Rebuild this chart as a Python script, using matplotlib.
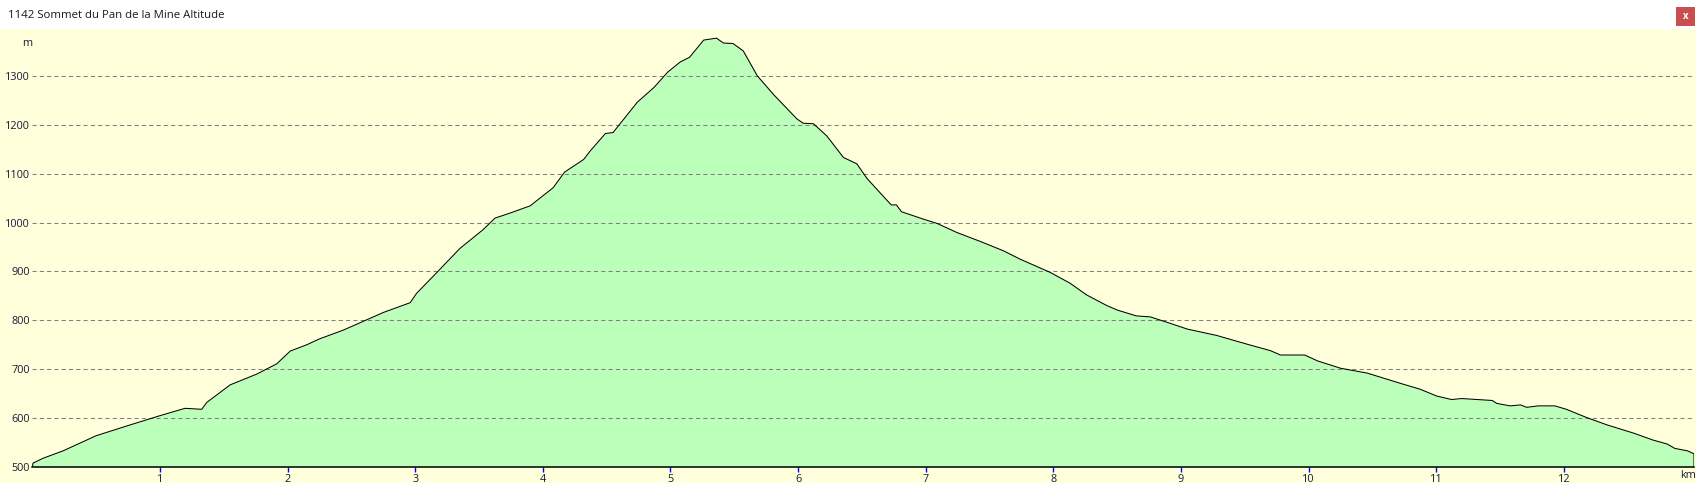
import matplotlib
matplotlib.use('Agg')
import matplotlib.pyplot as plt
from matplotlib.patches import Rectangle

# profile (distance in km, altitude in m)
km = [0.0, 0.005, 0.085, 0.24, 0.50, 0.765, 1.0, 1.196, 1.327, 1.366, 1.55, 1.758,
      1.915, 2.02, 2.15, 2.25, 2.437, 2.75, 2.96, 3.01, 3.17, 3.35, 3.53, 3.625,
      3.74, 3.90, 4.08, 4.17, 4.32, 4.37, 4.49, 4.55, 4.74, 4.87, 4.98, 5.075,
      5.15, 5.26, 5.36, 5.415, 5.49, 5.57, 5.68, 5.81, 5.99, 6.04, 6.12, 6.225,
      6.355, 6.46, 6.54, 6.68, 6.73, 6.77, 6.81, 6.98, 7.09, 7.24, 7.43, 7.61,
      7.74, 7.975, 8.13, 8.26, 8.42, 8.50, 8.65, 8.76, 8.83, 8.89, 9.05, 9.28,
      9.52, 9.70, 9.78, 9.97, 10.07, 10.25, 10.46, 10.72, 10.875, 11.005, 11.12,
      11.20, 11.44, 11.475, 11.58, 11.66, 11.71, 11.80, 11.93, 12.02, 12.18,
      12.34, 12.55, 12.70, 12.81, 12.87, 12.97, 13.02, 13.02]
alt = [500, 508, 518, 533, 564, 586, 605, 620, 618, 632, 668, 690,
       711, 737, 750, 762, 780, 816, 836, 855, 898, 947, 985, 1009,
       1019, 1034, 1071, 1103, 1129, 1146, 1182, 1184, 1246, 1276, 1308, 1328,
       1338, 1373, 1377, 1367, 1366, 1351, 1300, 1261, 1212, 1203, 1202, 1177,
       1133, 1120, 1090, 1050, 1036, 1036, 1022, 1007, 998, 980, 961, 942,
       925, 898, 876, 852, 830, 821, 809, 807, 801, 796, 782, 769,
       751, 738, 729, 729, 717, 702, 692, 671, 659, 645, 638,
       640, 636, 630, 625, 627, 622, 625, 625, 618, 601,
       586, 569, 555, 547, 538, 533, 527, 500]

y_ticks = [500, 600, 700, 800, 900, 1000, 1100, 1200, 1300]
x_ticks = [1, 2, 3, 4, 5, 6, 7, 8, 9, 10, 11, 12]
title = '1142 Sommet du Pan de la Mine Altitude'

W, H = 1696, 483
plt.rcParams['font.family'] = ['Open Sans', 'DejaVu Sans']
fig = plt.figure(figsize=(W / 100, H / 100), dpi=100, facecolor='#ffffdc')

# white title bar on top of the yellow panel
fig.patches.append(Rectangle((0, (H - 29) / H), 1, 29 / H, transform=fig.transFigure,
                             facecolor='white', edgecolor='none', zorder=0))
# close button
fig.patches.append(Rectangle((1676 / W, (H - 26) / H), 19 / W, 19 / H,
                             transform=fig.transFigure, facecolor='#c94f4f',
                             edgecolor='none', zorder=1))
fig.text(1685.5 / W, (H - 16.5) / H, 'x', color='white', fontsize=7,
         fontweight='bold', ha='center', va='center')
fig.text(8 / W, (H - 15) / H, title, fontsize=8.2, color='#1a1a1a',
         ha='left', va='center')

x0, x1, yb, yt = 32.4, 1694, 467, 29
ax = fig.add_axes([x0 / W, (H - yb) / H, (x1 - x0) / W, (yb - yt) / H])
ax.set_zorder(5)
ax.set_facecolor('none')
ax.set_xlim(0, 13.02)
ax.set_ylim(500, 500 + (yb - yt) / 48.9 * 100)

ax.fill_between(km, alt, 500, color='#bbffbb', linewidth=0, zorder=1)
for v in y_ticks:
    ax.axhline(v, color='#808080', linewidth=0.75, linestyle=(0, (4, 3)), zorder=2)
ax.plot(km, alt, color='black', linewidth=0.75, zorder=3)

for s in ['top', 'right', 'left']:
    ax.spines[s].set_visible(False)
ax.spines['bottom'].set_color('black')
ax.spines['bottom'].set_linewidth(1.1)
ax.spines['bottom'].set_zorder(4)

ax.set_xticks(x_ticks)
ax.set_xticklabels([str(t) for t in x_ticks])
ax.set_yticks(y_ticks)
ax.set_yticklabels([str(t) for t in y_ticks])
ax.tick_params(axis='x', direction='out', length=3.5, width=1, color='#0000ff',
               labelsize=7.8, labelcolor='#1a1a3a', pad=1.5)
ax.tick_params(axis='y', length=0, labelsize=7.8, labelcolor='#1a1a3a', pad=2)

fig.text(27 / W, (H - 43) / H, 'm', fontsize=7.8, color='#1a1a3a', ha='center', va='center')
fig.text(1688 / W, (H - 476) / H, 'km', fontsize=7.8, color='#1a1a3a', ha='center', va='center')

fig.savefig('out.png', dpi=100, facecolor=fig.get_facecolor())
